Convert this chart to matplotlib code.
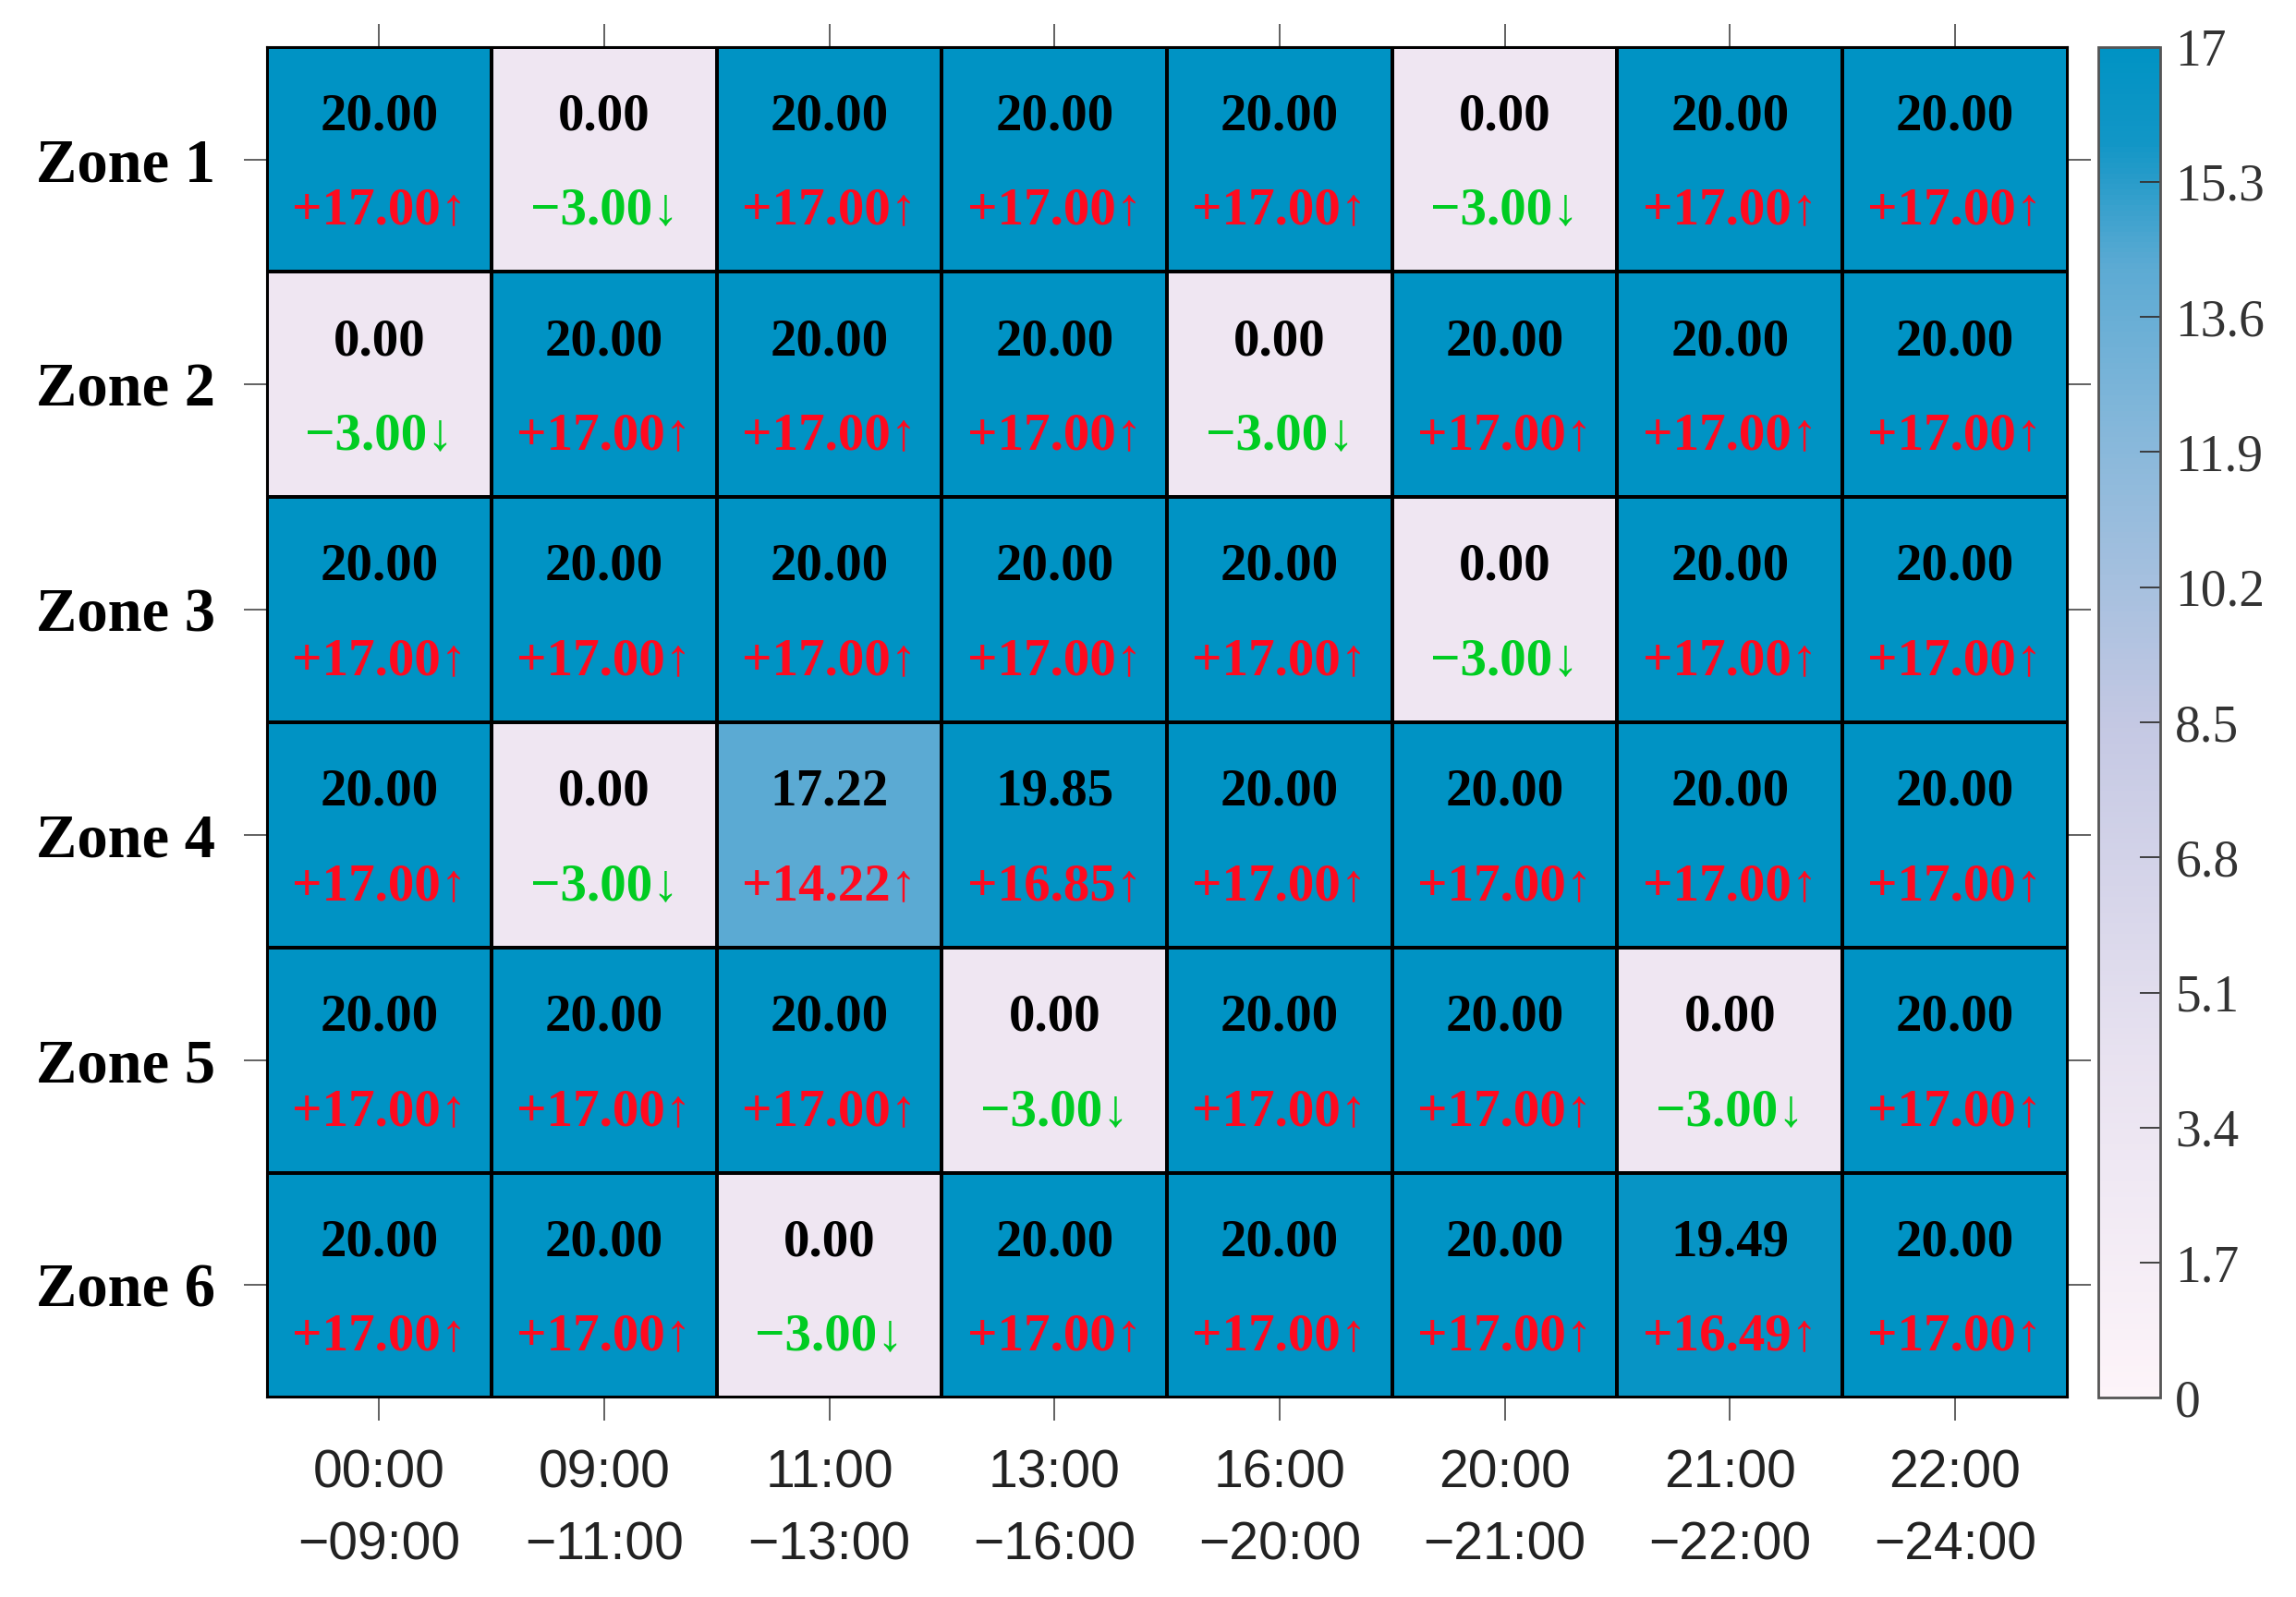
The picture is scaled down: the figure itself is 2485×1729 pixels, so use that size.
import numpy as np
import matplotlib
matplotlib.use("Agg")
import matplotlib.pyplot as plt
from matplotlib.colors import LinearSegmentedColormap, Normalize

zones = ["Zone 1", "Zone 2", "Zone 3", "Zone 4", "Zone 5", "Zone 6"]
periods = ["00:00\n\u221209:00", "09:00\n\u221211:00", "11:00\n\u221213:00", "13:00\n\u221216:00",
           "16:00\n\u221220:00", "20:00\n\u221221:00", "21:00\n\u221222:00", "22:00\n\u221224:00"]

# top number in each cell
values = np.array([
    [20.00, 0.00, 20.00, 20.00, 20.00, 0.00, 20.00, 20.00],
    [0.00, 20.00, 20.00, 20.00, 0.00, 20.00, 20.00, 20.00],
    [20.00, 20.00, 20.00, 20.00, 20.00, 0.00, 20.00, 20.00],
    [20.00, 0.00, 17.22, 19.85, 20.00, 20.00, 20.00, 20.00],
    [20.00, 20.00, 20.00, 0.00, 20.00, 20.00, 0.00, 20.00],
    [20.00, 20.00, 0.00, 20.00, 20.00, 20.00, 19.49, 20.00],
])
baseline = 3.0
delta = values - baseline

cbar_ticks = [0, 1.7, 3.4, 5.1, 6.8, 8.5, 10.2, 11.9, 13.6, 15.3, 17]
cbar_labels = ["0", "1.7", "3.4", "5.1", "6.8", "8.5", "10.2", "11.9", "13.6", "15.3", "17"]

cmap = LinearSegmentedColormap.from_list(
    "pubu_like",
    [(0.0, "#FDF4F9"), (0.25, "#E8E2F0"), (0.5, "#C4C8E3"), (0.72, "#84B7DA"),
     (0.84, "#5BAAD3"), (0.93, "#1296C6"), (1.0, "#0093C4")])
cmap.set_under("#EFE6F2")
norm = Normalize(vmin=0, vmax=17)

fig = plt.figure(figsize=(24.85, 17.29), dpi=100)
ax = fig.add_axes([0.1161, 0.1247, 0.7844, 0.846])
cax = fig.add_axes([0.9139, 0.1247, 0.0268, 0.846])

nr, nc = values.shape
mesh = ax.pcolormesh(np.arange(nc + 1), np.arange(nr + 1), delta, cmap=cmap, norm=norm,
                     edgecolor="black", linewidth=1.5)
ax.set_xlim(0, nc)
ax.set_ylim(nr, 0)

serif = ["Liberation Serif", "DejaVu Serif"]
for i in range(nr):
    for j in range(nc):
        ax.text(j + 0.5, i + 0.31, f"{values[i, j]:.2f}", ha="center", va="center",
                fontsize=41, fontweight="bold", family=serif, color="black")
        d = delta[i, j]
        if d >= 0:
            s, c = f"+{d:.2f}\u2191", "#FF0A1E"
        else:
            s, c = f"\u2212{abs(d):.2f}\u2193", "#00CC22"
        ax.text(j + 0.5, i + 0.73, s, ha="center", va="center",
                fontsize=41, fontweight="bold", family=serif, color=c)

ax.set_xticks(np.arange(nc) + 0.5)
ax.set_xticklabels(periods, family=["Liberation Sans", "DejaVu Sans"], fontsize=41,
                   linespacing=1.55, color="#222222")
ax.set_yticks(np.arange(nr) + 0.5)
ax.set_yticklabels(zones, family=serif, fontsize=48, fontweight="bold")
ax.tick_params(axis="both", which="both", direction="out", length=18, width=1.3,
               color="#555555", top=True, right=True, labeltop=False, labelright=False)
ax.tick_params(axis="x", pad=22)
ax.tick_params(axis="y", pad=22)
for sp in ax.spines.values():
    sp.set_linewidth(1.5)

cb = fig.colorbar(mesh, cax=cax, ticks=cbar_ticks, extend="neither")
cb.ax.set_yticklabels(cbar_labels, family=serif, fontsize=40, color="#333333")
cb.ax.tick_params(direction="in", length=16, width=1.3, color="#333333", pad=12)
cb.outline.set_linewidth(2)
cb.outline.set_edgecolor("#555555")

fig.savefig("out.png", dpi=100)
